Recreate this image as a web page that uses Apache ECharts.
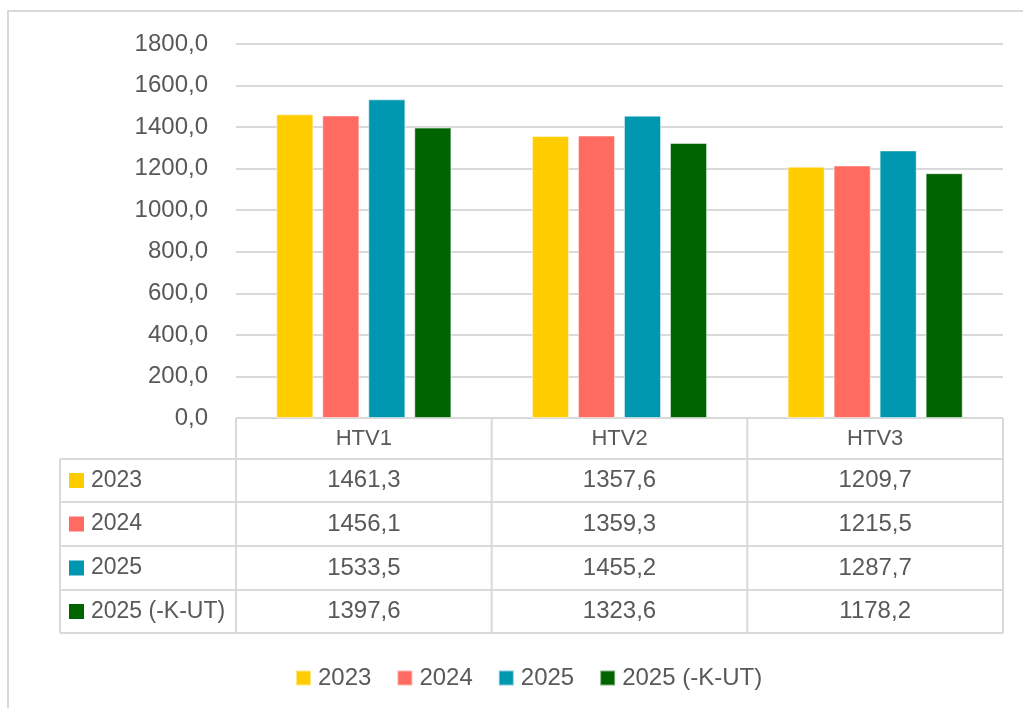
<!DOCTYPE html>
<html>
<head>
<meta charset="utf-8">
<script src="https://cdn.jsdelivr.net/npm/echarts@6/dist/echarts.min.js"></script>
<style>
  html, body { margin: 0; padding: 0; background: #fff; }
  #main { width: 1023px; height: 708px; }
</style>
</head>
<body>
<div id="main"></div>
<script>
var categories = ['HTV1', 'HTV2', 'HTV3'];
var seriesNames = ['2023', '2024', '2025', '2025 (-K-UT)'];
var colors = ['#FFCC00', '#FF6B61', '#0097B0', '#006400'];
var values2023 = [1461.3, 1357.6, 1209.7];
var values2024 = [1456.1, 1359.3, 1215.5];
var values2025 = [1533.5, 1455.2, 1287.7];
var values2025k = [1397.6, 1323.6, 1178.2];
var allValues = [values2023, values2024, values2025, values2025k];

var textColor = '#595959';
var lineColor = '#D9D9D9';
var font = 'Liberation Sans, Arial, sans-serif';

// layout of plot + data table
var plotLeft = 236, plotRight = 1003, plotTop = 44, plotBottom = 418;
var tableLeft = 60;
var rowEdges = [418, 459, 502, 546, 590, 633];

function fmt(v) {
  return v.toFixed(1).replace('.', ',');
}

onload = function () {
  var myChart = echarts.init(document.getElementById('main'));
  var colW = (plotRight - plotLeft) / categories.length;
  var g = [];

  // outer chart border
  g.push({ type: 'polyline', shape: { points: [[8, 708], [8, 11], [1023, 11]] },
           style: { stroke: lineColor, lineWidth: 2, fill: null } });

  // table lines
  for (var r = 0; r < rowEdges.length; r++) {
    var x0 = r === 0 ? plotLeft : tableLeft;
    g.push({ type: 'line', shape: { x1: x0, y1: rowEdges[r], x2: plotRight, y2: rowEdges[r] },
             style: { stroke: lineColor, lineWidth: 2 } });
  }
  g.push({ type: 'line', shape: { x1: tableLeft, y1: rowEdges[1], x2: tableLeft, y2: rowEdges[5] },
           style: { stroke: lineColor, lineWidth: 2 } });
  for (var c = 0; c <= categories.length; c++) {
    var x = plotLeft + c * colW;
    g.push({ type: 'line', shape: { x1: x, y1: rowEdges[0], x2: x, y2: rowEdges[5] },
             style: { stroke: lineColor, lineWidth: 2 } });
  }

  // header texts
  categories.forEach(function (cat, i) {
    g.push({ type: 'text', x: plotLeft + (i + 0.5) * colW, y: (rowEdges[0] + rowEdges[1]) / 2,
             style: { text: cat, fill: textColor, font: '22px ' + font, align: 'center', verticalAlign: 'middle' } });
  });

  // rows
  seriesNames.forEach(function (name, s) {
    var yc = (rowEdges[s + 1] + rowEdges[s + 2]) / 2;
    g.push({ type: 'rect', shape: { x: 69, y: yc - 7.5, width: 15, height: 15 },
             style: { fill: colors[s] } });
    g.push({ type: 'text', x: 91, y: yc,
             style: { text: name, fill: textColor, font: '23px ' + font, align: 'left', verticalAlign: 'middle' } });
    allValues[s].forEach(function (v, i) {
      g.push({ type: 'text', x: plotLeft + (i + 0.5) * colW, y: yc,
               style: { text: fmt(v), fill: textColor, font: '24px ' + font, align: 'center', verticalAlign: 'middle' } });
    });
  });

  myChart.setOption({
    backgroundColor: '#fff',
    animation: false,
    color: colors,
    grid: { left: plotLeft, right: 1023 - plotRight, top: plotTop, bottom: 708 - plotBottom },
    legend: {
      data: seriesNames,
      left: 290,
      top: 661,
      itemWidth: 15,
      itemHeight: 15,
      itemGap: 25,
      icon: 'rect',
      textStyle: { color: textColor, fontSize: 24, fontFamily: font, padding: [0, 0, 0, 2] }
    },
    xAxis: {
      type: 'category',
      data: categories,
      axisLine: { show: false },
      axisTick: { show: false },
      axisLabel: { show: false }
    },
    yAxis: {
      type: 'value',
      min: 0,
      max: 1800,
      interval: 200,
      axisLine: { show: false },
      axisTick: { show: false },
      axisLabel: { color: textColor, fontSize: 24, fontFamily: font, margin: 28, formatter: fmt },
      splitLine: { lineStyle: { color: lineColor, width: 2 } }
    },
    series: seriesNames.map(function (name, s) {
      return {
        name: name,
        type: 'bar',
        data: allValues[s],
        barGap: '24%',
        barCategoryGap: '31.5%',
        itemStyle: { color: colors[s], borderColor: 'rgba(255,255,255,0.5)', borderWidth: 1 }
      };
    }),
    graphic: g
  });
};
</script>
</body>
</html>
